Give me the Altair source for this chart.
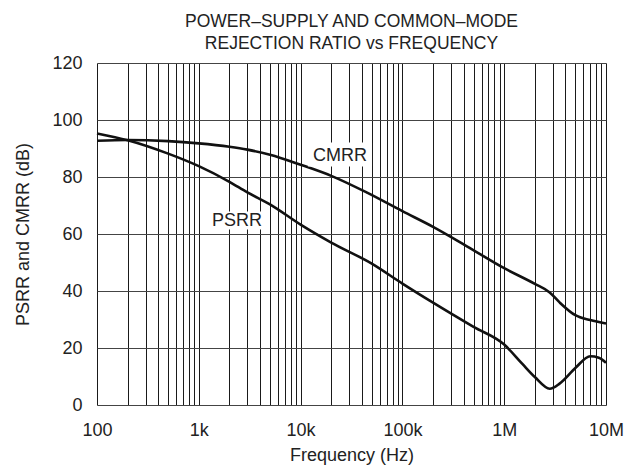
import altair as alt
import pandas as pd

# ---- data ----
psrr_freq = [100, 200, 500, 1e3, 2e3, 3e3, 5e3, 1e4, 2e4, 5e4, 1e5, 2e5, 5e5,
             1e6, 1.5e6, 2e6, 2.8e6, 3.5e6, 5e6, 7e6, 8.5e6, 1e7]
psrr_db = [95.3, 92.9, 88.2, 83.8, 78.3, 74.6, 70.4, 63.3, 57.0, 49.6, 42.6,
           35.9, 27.4, 21.2, 14.5, 9.8, 5.7, 7.5, 13.0, 17.1, 16.6, 14.8]

cmrr_freq = [100, 200, 500, 1e3, 2e3, 3e3, 5e3, 1e4, 2e4, 4.5e4, 1e5, 2e5,
             4.3e5, 1e6, 2e6, 2.8e6, 3.5e6, 5e6, 7e6, 1e7]
cmrr_db = [92.7, 93.0, 92.6, 91.8, 90.6, 89.6, 87.8, 84.3, 80.4, 74.5, 68.0,
           62.5, 55.7, 48.0, 42.5, 39.5, 36.0, 31.5, 29.8, 28.6]

label_text = ["CMRR", "PSRR"]
label_freq = [24400, 2370]
label_db = [87.2, 64.4]
box_f1 = [11800, 1230]
box_f2 = [50300, 4470]
box_d1 = [83.7, 61.6]
box_d2 = [92.1, 67.9]

decades = [100, 1000, 10000, 100000, 1000000, 10000000]
grid_freqs = [int(d * m) for d in decades[:-1] for m in range(1, 10)] + [10000000]
y_ticks = [0, 20, 40, 60, 80, 100, 120]

FONT = "Liberation Sans"

df = pd.DataFrame(
    {"f": psrr_freq + cmrr_freq,
     "db": psrr_db + cmrr_db,
     "s": ["PSRR"] * len(psrr_freq) + ["CMRR"] * len(cmrr_freq)}
)
lab = pd.DataFrame({"t": label_text, "f": label_freq, "db": label_db,
                    "f1": box_f1, "f2": box_f2, "d1": box_d1, "d2": box_d2})

label_expr = ("datum.value==100?'100':datum.value==1000?'1k':datum.value==10000?'10k':"
              "datum.value==100000?'100k':datum.value==1000000?'1M':"
              "datum.value==10000000?'10M':''")

xscale = alt.Scale(type="log", domain=[100, 10000000], nice=False)
yscale = alt.Scale(domain=[0, 120], nice=False)

xaxis = alt.Axis(values=grid_freqs, labelExpr=label_expr, grid=True, gridColor="#1a1a1a",
                 gridWidth=1, gridOpacity=1, ticks=False, domain=False,
                 labelFont=FONT, labelFontSize=18, labelColor="#222", labelPadding=16,
                 labelOverlap=False, labelFlush=False,
                 title="Frequency (Hz)", titleFont=FONT, titleFontSize=18,
                 titleFontWeight="normal", titleColor="#222", titlePadding=7)
yaxis = alt.Axis(values=y_ticks, grid=True, gridColor="#444", gridWidth=1, gridOpacity=1,
                 ticks=False, domain=False, labelFont=FONT, labelFontSize=18,
                 labelColor="#222", labelPadding=15,
                 title="PSRR and CMRR (dB)", titleFont=FONT, titleFontSize=18,
                 titleFontWeight="normal", titleColor="#222", titlePadding=19)

lines = alt.Chart(df).mark_line(color="#111", strokeWidth=2.6, interpolate="monotone").encode(
    x=alt.X("f:Q", scale=xscale, axis=xaxis),
    y=alt.Y("db:Q", scale=yscale, axis=yaxis),
    detail="s:N",
)

boxes = alt.Chart(lab).mark_rect(color="white").encode(
    x=alt.X("f1:Q", scale=xscale), x2="f2:Q",
    y=alt.Y("d1:Q", scale=yscale), y2="d2:Q",
)

texts = alt.Chart(lab).mark_text(font=FONT, fontSize=18, color="#222",
                                 align="center", baseline="middle").encode(
    x=alt.X("f:Q", scale=xscale),
    y=alt.Y("db:Q", scale=yscale),
    text="t:N",
)

chart = alt.layer(lines, boxes, texts).properties(
    width=509, height=342,
    autosize=alt.AutoSizeParams(type="none"),
    padding={"left": 89, "top": 55, "right": 26, "bottom": 64},
    title=alt.TitleParams(
        text=["POWER\u2013SUPPLY AND COMMON\u2013MODE", "REJECTION RATIO vs FREQUENCY"],
        font=FONT, fontSize=17.5, fontWeight="normal", color="#222",
        anchor="middle", lineHeight=22, offset=2,
    ),
).configure_view(stroke="#111", strokeWidth=2.5).configure(background="white")

chart.save("out.html", embed_options={"renderer": "svg", "actions": False})
